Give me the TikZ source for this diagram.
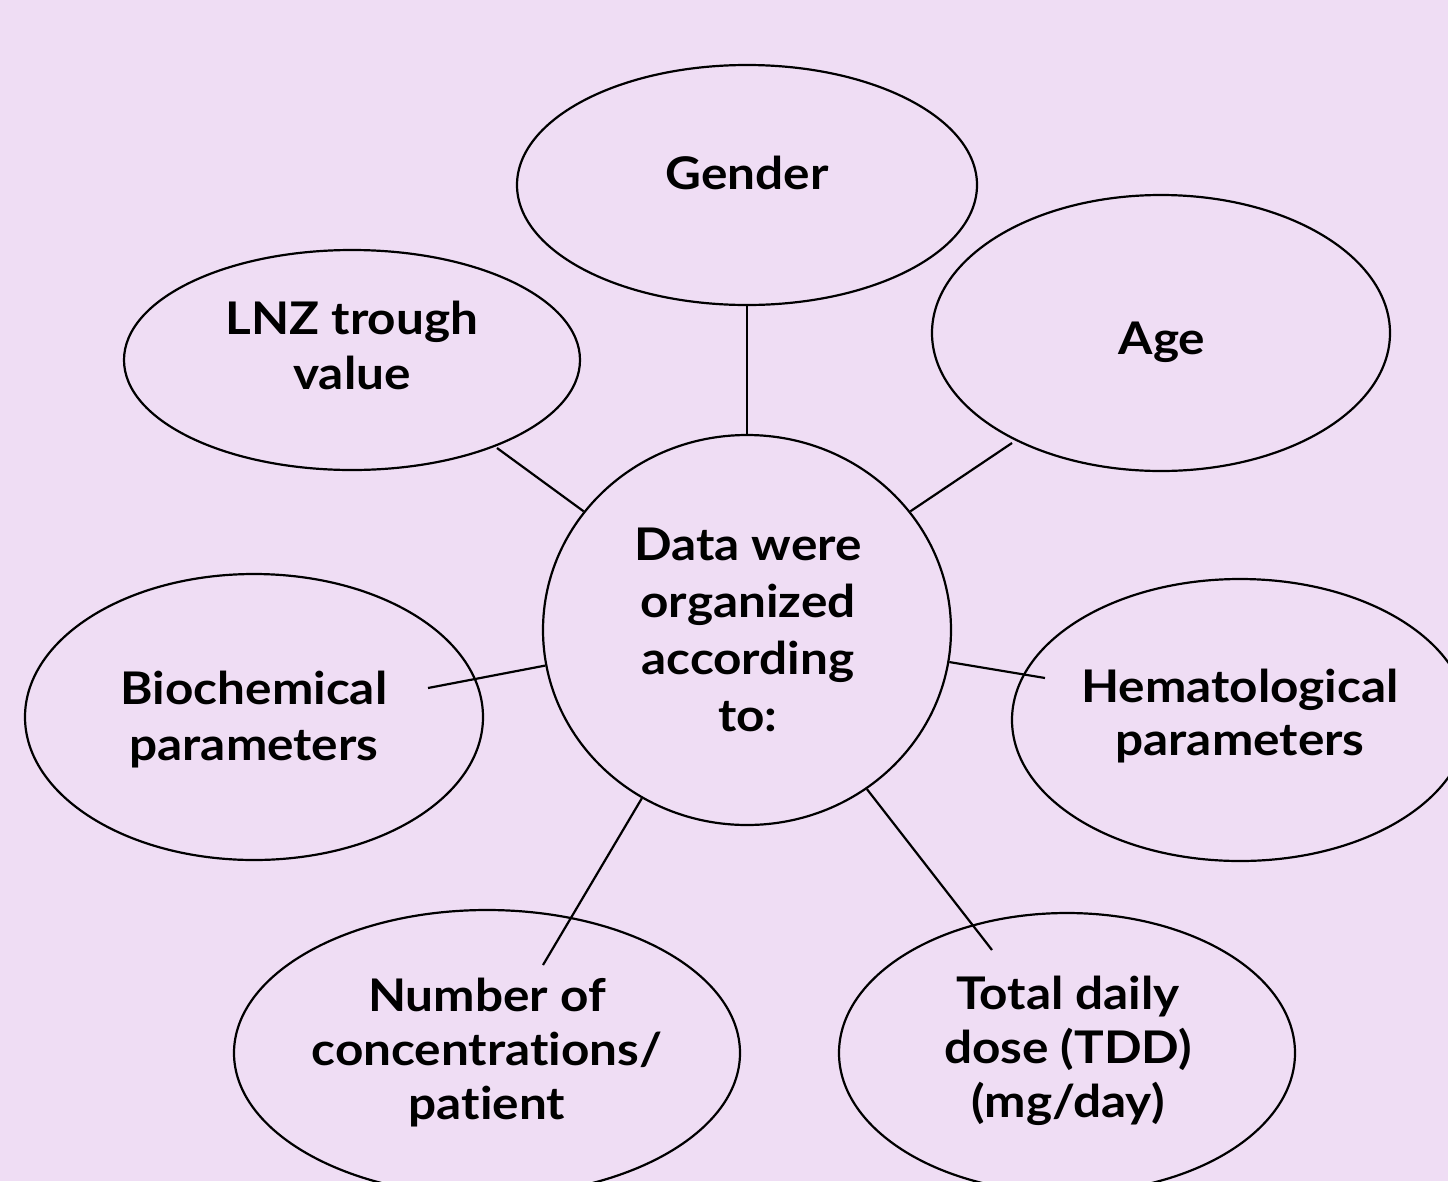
\documentclass[tikz,border=0pt]{standalone}
\usepackage{fontspec}
\setmainfont{Lato}[FakeStretch=1.1, Ligatures=NoCommon]
\usetikzlibrary{shapes.geometric}
\definecolor{bgpurple}{HTML}{EFDDF4}
\begin{document}
\begin{tikzpicture}[x=1pt,y=-1pt,
  bubble/.style={ellipse, draw=black, line width=2.2pt, inner sep=0pt},
  label/.style={align=center, font=\bfseries\fontsize{45}{55}\selectfont},
  link/.style={draw=black, line width=2.2pt}]
\useasboundingbox (0,0) rectangle (1448,1181);
\clip (0,0) rectangle (1448,1181);
\fill[bgpurple] (0,0) rectangle (1448,1181);
\node[bubble, minimum width=460pt, minimum height=240pt] (gender) at (747,185) {};
\node[label] (gendert) at (747,173) {Gender};
\node[bubble, minimum width=456pt, minimum height=220pt] (lnz) at (352,360) {};
\node[label] (lnzt) at (352,345) {LNZ trough\\value};
\node[bubble, minimum width=458pt, minimum height=276pt] (age) at (1161,333) {};
\node[label] (aget) at (1162,342) {Age};
\node[bubble, minimum width=408pt, minimum height=390pt] (c) at (747,630) {};
\node[label, font=\bfseries\fontsize{45}{57}\selectfont] (ct) at (748,630) {Data were\\organized\\according\\to:};
\node[bubble, minimum width=458pt, minimum height=286pt] (bio) at (254,717) {};
\node[label, font=\bfseries\fontsize{45}{56}\selectfont] (biot) at (254,720) {Biochemical\\parameters};
\node[bubble, minimum width=456pt, minimum height=282pt] (hema) at (1240,720) {};
\node[label, font=\bfseries\fontsize{45}{53}\selectfont] (hemat) at (1240,716) {Hematological\\parameters};
\node[bubble, minimum width=506pt, minimum height=286pt] (num) at (487,1053) {};
\node[label, font=\bfseries\fontsize{45}{54}\selectfont] (numt) at (487,1053) {Number of\\concentrations/\\patient};
\node[bubble, minimum width=456pt, minimum height=280pt] (tdd) at (1067,1053) {};
\node[label, font=\bfseries\fontsize{45}{54}\selectfont] (tddt) at (1068,1051) {Total daily\\dose (TDD)\\(mg/day)};
\coordinate (lnzend) at (497,448);
\coordinate (ageend) at (1012,443);
\coordinate (bioend) at (428,688);
\coordinate (hemaend) at (1045,678);
\coordinate (numend) at (543,965);
\coordinate (tddend) at (992,950);
\draw[link] (c.90) -- (gender.south);
\draw[link] (c.144) -- (lnzend);
\draw[link] (c.36) -- (ageend);
\draw[link] (c.190) -- (bioend);
\draw[link] (c.-9) -- (hemaend);
\draw[link] (c.238) -- (numend);
\draw[link] (c.307) -- (tddend);
\end{tikzpicture}
\end{document}
